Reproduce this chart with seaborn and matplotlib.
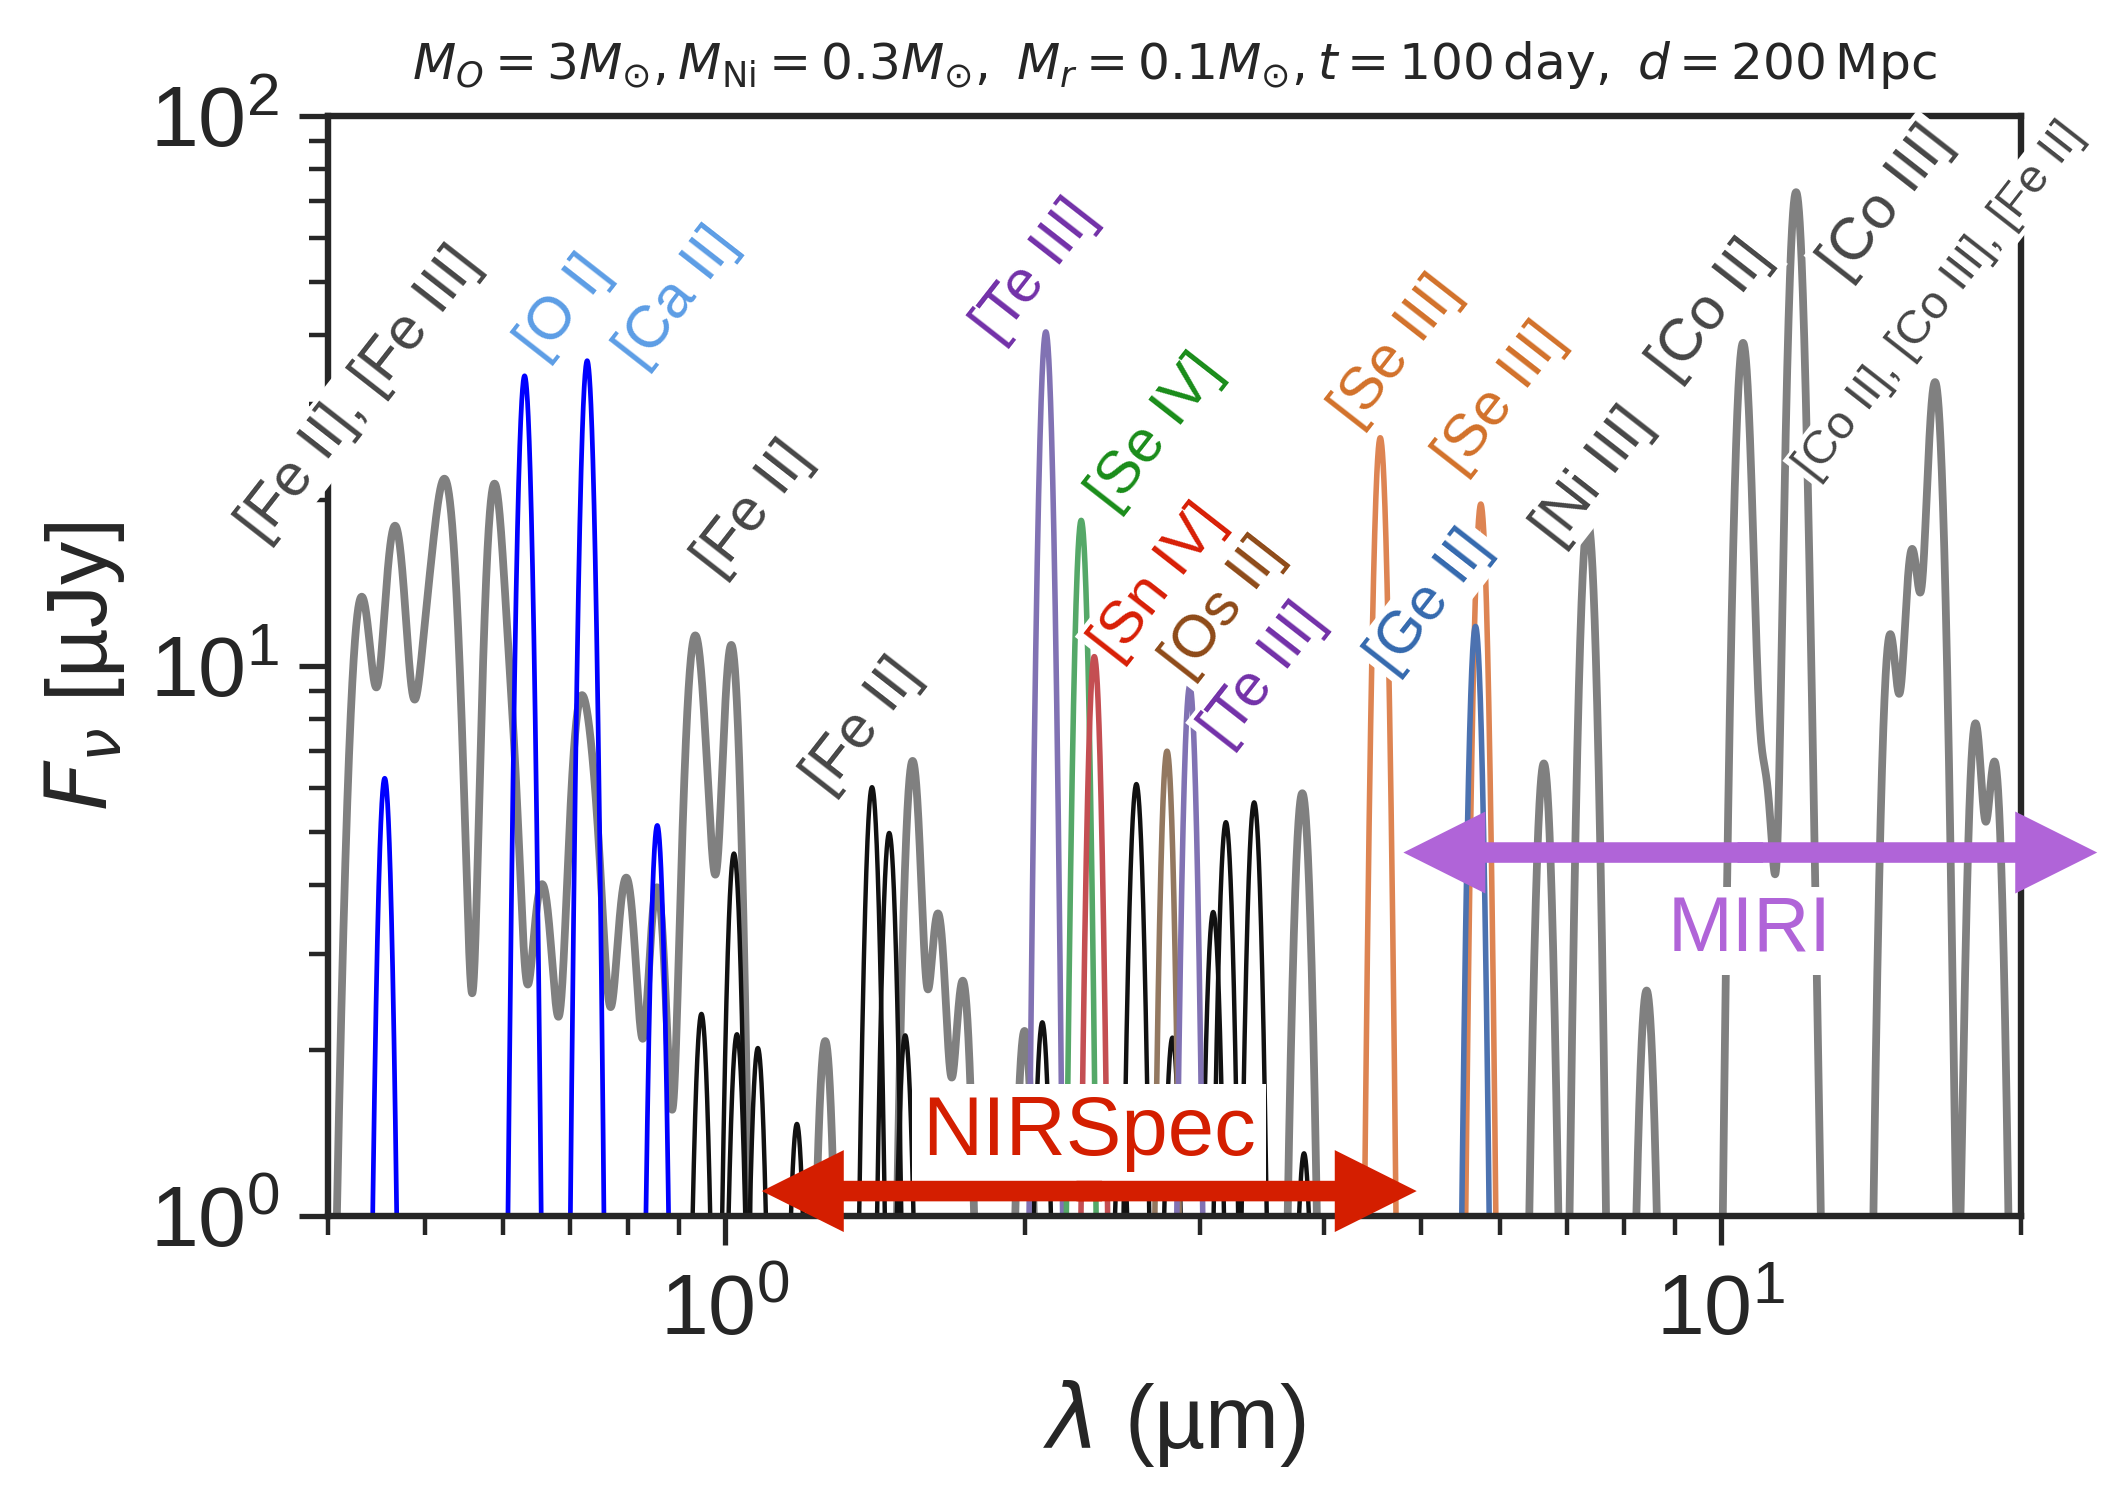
import numpy as np
import pandas as pd
import matplotlib
matplotlib.use("Agg")
import matplotlib.pyplot as plt
from matplotlib.patches import FancyArrowPatch, ArrowStyle
from matplotlib.ticker import NullFormatter
import seaborn as sns

# ---------------------------------------------------------------------------
# Line lists: centre wavelength [um], peak flux density [uJy], width [dex]
# ---------------------------------------------------------------------------
# Fe-group blend (grey, summed into one spectrum)
fe_center = [0.432, 0.467, 0.500, 0.525, 0.587, 0.612, 0.656, 0.715, 0.742, 0.797,
             0.856, 0.934, 0.972, 1.016, 1.262, 1.544, 1.638, 1.735, 2.00, 3.80,
             6.64, 7.35, 8.42, 10.52, 11.08, 11.89, 12.25, 14.77, 15.54, 16.40,
             17.99, 18.83]
fe_peak = [13.2, 17.8, 7.5, 21.0, 21.0, 5.5, 4.0, 7.75, 3.7, 4.1,
           3.9, 11.25, 1.6, 10.85, 2.08, 6.7, 3.49, 2.65, 2.17, 5.87,
           6.65, 18.3, 2.57, 38.5, 6.0, 72.0, 3.0, 11.2, 15.8, 32.7,
           7.74, 6.55]
fe_width = [0.0108, 0.011, 0.010, 0.0115, 0.009, 0.008, 0.0115, 0.010, 0.0095, 0.0105,
            0.0085, 0.0098, 0.0075, 0.008, 0.0075, 0.008, 0.008, 0.008, 0.0075, 0.0078,
            0.0075, 0.0076, 0.0075, 0.0075, 0.0085, 0.0072, 0.0075, 0.0075, 0.0075, 0.0078,
            0.007, 0.007]

# [O I] / [Ca II] lines (blue)
oca_center = [0.456, 0.630, 0.728, 0.856]
oca_peak = [6.25, 33.7, 35.9, 5.13]
oca_width = 0.0063

# unlabelled r-process lines (black)
other_center = [0.948, 1.022, 1.029, 1.080, 1.182, 1.406, 1.463, 1.518, 2.084, 2.50,
                2.59, 2.815, 3.093, 3.185, 3.40, 3.815]
other_peak = [2.33, 4.56, 2.14, 2.02, 1.47, 6.02, 4.97, 2.13, 2.25, 1.5,
              6.1, 2.11, 3.57, 5.2, 5.65, 1.30]
other_width = 0.0068

# labelled r-process lines (coloured)
rp_ion = ["[Te III]", "[Se IV]", "[Sn IV]", "[Os II]", "[Te III]", "[Se III]", "[Se III]", "[Ge II]"]
rp_center = [2.101, 2.28, 2.35, 2.78, 2.93, 4.55, 5.74, 5.67]
rp_peak = [40.5, 18.4, 10.4, 7.0, 9.2, 26.0, 19.7, 11.8]
rp_width = 0.0062

ion_line_color = {"[Te III]": "#8172B3", "[Se IV]": "#55A868", "[Sn IV]": "#C44E52",
                  "[Os II]": "#937860", "[Se III]": "#DD8452", "[Ge II]": "#4C72B0"}

# ---------------------------------------------------------------------------
# Spectra on a log-wavelength grid
# ---------------------------------------------------------------------------
grid = np.logspace(np.log10(0.38), np.log10(21.0), 9000)
lgrid = np.log10(grid)
FLOOR = 1e-3


def gaussian(center, peak, width):
    return peak * np.exp(-0.5 * ((lgrid - np.log10(center)) / width) ** 2)


fe_flux = np.sum([gaussian(c, p, w) for c, p, w in zip(fe_center, fe_peak, fe_width)], axis=0)
df_fe = pd.DataFrame({"wave": grid, "flux": np.maximum(fe_flux, FLOOR)})


def single_lines(centers, peaks, width, names=None):
    frames = []
    for i, (c, p) in enumerate(zip(centers, peaks)):
        frames.append(pd.DataFrame({"wave": grid,
                                    "flux": np.maximum(gaussian(c, p, width), FLOOR),
                                    "line": f"{i:02d}" if names is None else f"{names[i]} {c}"}))
    return pd.concat(frames, ignore_index=True)


df_oca = single_lines(oca_center, oca_peak, oca_width)
df_other = single_lines(other_center, other_peak, other_width)
df_rp = single_lines(rp_center, rp_peak, rp_width, rp_ion)
rp_palette = {f"{n} {c}": ion_line_color[n] for n, c in zip(rp_ion, rp_center)}

# ---------------------------------------------------------------------------
# Figure
# ---------------------------------------------------------------------------
sns.set_theme(style="ticks")
plt.rcParams["font.family"] = ["Liberation Sans", "DejaVu Sans"]
plt.rcParams["mathtext.fontset"] = "dejavusans"
INK = "#262626"

W, H, DPI = 2116, 1498, 200
fig = plt.figure(figsize=(W / DPI, H / DPI), dpi=DPI)
ax = fig.add_axes([328 / W, 1 - 1216 / H, (2021 - 328) / W, (1216 - 116) / H])
ax.set_xscale("log")
ax.set_yscale("log")

sns.lineplot(data=df_fe, x="wave", y="flux", color="#808080", lw=2.8,
             estimator=None, ax=ax, zorder=2)
sns.lineplot(data=df_oca, x="wave", y="flux", units="line", estimator=None,
             color="#0000FF", lw=1.7, ax=ax, zorder=2.2, legend=False)
sns.lineplot(data=df_other, x="wave", y="flux", units="line", estimator=None,
             color="#111111", lw=1.6, ax=ax, zorder=2.3, legend=False)
sns.lineplot(data=df_rp, x="wave", y="flux", hue="line", palette=rp_palette,
             estimator=None, lw=2.0, ax=ax, zorder=2.4, legend=False)

ax.set_xlim(0.4, 20)
ax.set_ylim(1, 100)

for sp in ax.spines.values():
    sp.set_linewidth(2.3)
    sp.set_color(INK)
ax.tick_params(which="major", direction="out", length=10.5, width=1.9,
               labelsize=31, colors=INK, pad=7, top=False, right=False)
ax.tick_params(axis="x", which="major", pad=10)
ax.tick_params(which="minor", direction="out", length=7, width=1.6,
               colors=INK, top=False, right=False)
ax.xaxis.set_minor_formatter(NullFormatter())
ax.yaxis.set_minor_formatter(NullFormatter())

ax.set_xlabel(r"$\lambda$ (µm)", fontsize=32, color=INK, labelpad=9)
ax.set_ylabel(r"$F_\nu$ [µJy]", fontsize=31, color=INK, labelpad=8)

ax.text(0.5, 1.0464,
        r"$M_O = 3M_{\odot}, M_{\rm Ni} = 0.3M_{\odot},\ M_r = 0.1M_{\odot}, "
        r"t = 100\,{\rm day},\ d = 200\,{\rm Mpc}$",
        transform=ax.transAxes, ha="center", va="center", fontsize=18.1, color=INK)

# ion annotations: (text, wavelength, flux, colour, size)
GREY_TXT = "#464646"
annotations = [
    ("[Fe II], [Fe III]", 0.4307, 31.2, GREY_TXT, 21.5),
    ("[O I]", 0.6906, 44.8, "#5C9DE5", 21.5),
    ("[Ca II]", 0.8975, 46.9, "#5C9DE5", 21.5),
    ("[Fe II]", 1.069, 19.3, GREY_TXT, 21.5),
    ("[Fe II]", 1.376, 7.77, GREY_TXT, 21.5),
    ("[Te III]", 2.051, 52.2, "#7230A8", 21.5),
    ("[Se IV]", 2.707, 26.6, "#198C19", 21.5),
    ("[Sn IV]", 2.725, 14.2, "#D81E05", 21.5),
    ("[Os II]", 3.164, 12.8, "#8E4A18", 21.5),
    ("[Te III]", 3.475, 9.63, "#7230A8", 21.5),
    ("[Se III]", 4.718, 37.4, "#D2712A", 21.5),
    ("[Se III]", 6.0, 30.7, "#D2712A", 21.5),
    ("[Ge II]", 5.10, 13.1, "#3469AE", 21.5),
    ("[Ni III]", 7.44, 22.1, GREY_TXT, 21.5),
    ("[Co II]", 9.76, 44.3, GREY_TXT, 21.5),
    ("[Co III]", 14.64, 69.6, GREY_TXT, 21.5),
    ("[Co II], [Co III], [Fe II]", 16.59, 46.1, GREY_TXT, 17),
]
for txt, x, y, c, fs in annotations:
    ax.text(x, y, txt, color=c, fontsize=fs, rotation=52, ha="center", va="center",
            zorder=4, clip_on=False,
            bbox=dict(boxstyle="square,pad=0.08", fc="white", ec="none"))


def double_arrow(lo, hi, y, color):
    style = ArrowStyle.Simple(head_length=29.5, head_width=29.5, tail_width=7.4)
    mid = np.sqrt(lo * hi)
    for a, b in ((mid * 1.03, lo), (mid / 1.03, hi)):
        ax.add_patch(FancyArrowPatch((a, y), (b, y), arrowstyle=style, mutation_scale=1,
                                     color=color, lw=0, shrinkA=0, shrinkB=0,
                                     clip_on=False, zorder=5))


NIRSPEC_RED = "#D41E00"
MIRI_PURPLE = "#B064D8"
double_arrow(1.09, 4.95, 1.11, NIRSPEC_RED)
double_arrow(4.80, 23.85, 4.58, MIRI_PURPLE)
ax.text(2.32, 1.416, "NIRSpec", color=NIRSPEC_RED, fontsize=30, ha="center", va="center",
        zorder=4.5, bbox=dict(boxstyle="square,pad=0.12", fc="white", ec="none"))
ax.text(10.69, 3.30, "MIRI", color=MIRI_PURPLE, fontsize=28, ha="center", va="center",
        zorder=4.5, bbox=dict(boxstyle="square,pad=0.1", fc="white", ec="none"))

fig.savefig("out.png", dpi=DPI, facecolor="white")
